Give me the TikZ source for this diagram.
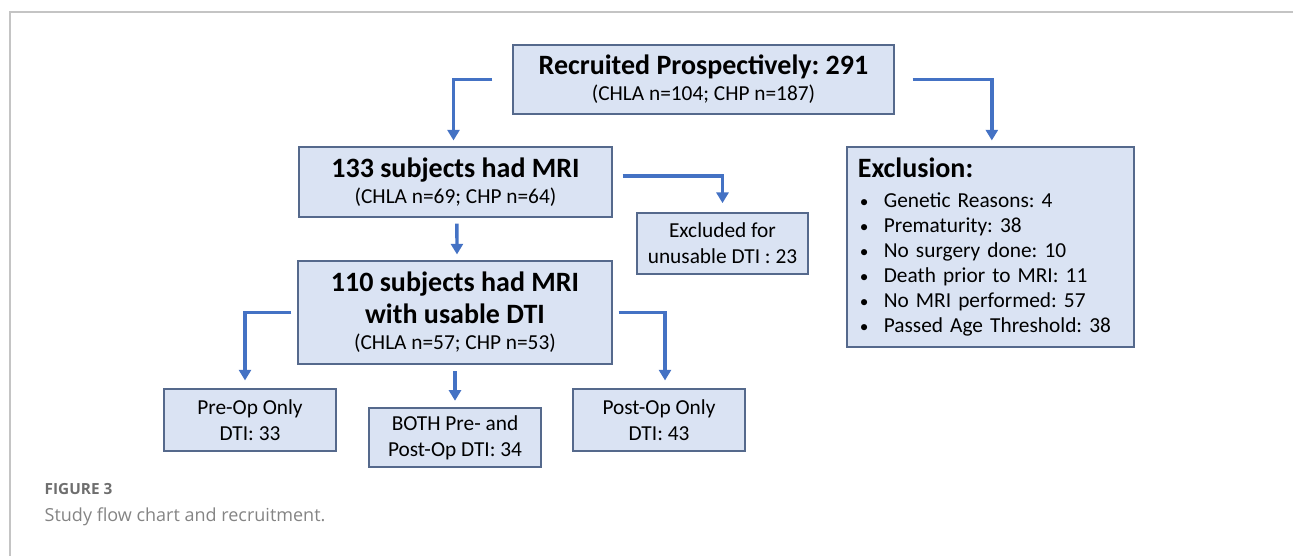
\documentclass[tikz,border=0pt]{standalone}
\usepackage{fontspec}
\setmainfont{Carlito}
\newfontfamily\capfont{Open Sans}
\usetikzlibrary{arrows.meta}
\frenchspacing

\definecolor{boxfill}{HTML}{DAE3F3}
\definecolor{boxline}{HTML}{55698C}
\definecolor{arrowblue}{HTML}{4472C4}
\definecolor{framegray}{HTML}{C4C4C4}
\definecolor{capgray}{HTML}{6E6E6E}

\tikzset{
  box/.style={draw=boxline, fill=boxfill, line width=0.8pt, inner sep=0pt,
    align=center, font=\fontsize{16}{19.5}\selectfont},
  flow/.style={draw=arrowblue, line width=2.5pt, -{Triangle[width=9pt,length=8pt]}},
}
\newcommand{\boxtitle}[1]{{\fontsize{21}{24}\selectfont\bfseries #1}}
\newcommand{\bulletitem}{\makebox[19.5pt][l]{\hspace{1.5pt}{\fontsize{13}{13}\selectfont\textbullet}}}

\begin{document}
\begin{tikzpicture}[x=0.75pt, y=-0.75pt]
    \useasboundingbox (0,0) rectangle (1293,556);

    % Draw the frame round the figure
    \draw[framegray, line width=1.1pt] (10,556) -- (10,12) -- (1293,12);

    % Draw nodes for the main flow
    \node[box, minimum width=285.75pt, minimum height=51.75pt] (recruit) at (703.5,79.5)
        {\boxtitle{Recruited Prospectively: 291}\\ (CHLA n=104; CHP n=187)};
    \node[box, minimum width=234.75pt, minimum height=52.5pt] (mri) at (455.5,182)
        {\boxtitle{133 subjects had MRI}\\ (CHLA n=69; CHP n=64)};
    \node[box, minimum width=235.5pt, minimum height=77.25pt] (usable) at (455,312.5)
        {\boxtitle{110 subjects had MRI}\\[4.5pt] \boxtitle{with usable DTI}\\ (CHLA n=57; CHP n=53)};

    % Draw nodes for the excluded subjects
    \node[box, minimum width=128.25pt, minimum height=45.75pt] (unusable) at (722.5,243.5)
        {Excluded for\\ unusable DTI : 23};
    \node[box, minimum width=215.25pt, minimum height=150pt, align=left, text width=199pt,
          font=\fontsize{16}{18.75}\selectfont] (exclusion) at (990.5,247)
        {\boxtitle{Exclusion:}\\[4pt]
         \bulletitem Genetic Reasons: 4\\
         \bulletitem Prematurity: 38\\
         \bulletitem No surgery done: 10\\
         \bulletitem Death prior to MRI: 11\\
         \bulletitem No MRI performed: 57\\
         \bulletitem Passed Age Threshold: 38};

    % Draw nodes for the DTI groups
    \node[box, minimum width=129pt, minimum height=46.5pt] (preop) at (250,420)
        {Pre-Op Only\\ DTI: 33};
    \node[box, minimum width=129pt, minimum height=44.25pt] (both) at (455,437.5)
        {BOTH Pre- and\\ Post-Op DTI: 34};
    \node[box, minimum width=129pt, minimum height=46.5pt] (postop) at (659,420)
        {Post-Op Only\\ DTI: 43};

    % Draw all arrows
    \draw[flow] ([xshift=-15pt]recruit.west) -| ([xshift=-1.5pt, yshift=4.5pt]mri.north); % Recruited to MRI
    \draw[flow] ([xshift=13.5pt]recruit.east) -| ([xshift=1pt, yshift=4.5pt]exclusion.north); % Recruited to exclusion
    \draw[flow] ([xshift=7.5pt, yshift=4.5pt]mri.east) -| ([yshift=7pt]unusable.north); % MRI to unusable DTI
    \draw[flow] ([xshift=1pt, yshift=-4.5pt]mri.south) -- ([xshift=1.5pt, yshift=4.5pt]usable.north); % MRI to usable DTI
    \draw[flow] ([xshift=-4.5pt]usable.west) -| ([xshift=-3.75pt, yshift=6pt]preop.north); % usable to pre-op
    \draw[flow] ([yshift=-5pt]usable.south) -- ([yshift=5pt]both.north); % usable to both
    \draw[flow] ([xshift=4.5pt]usable.east) -| ([xshift=4.5pt, yshift=6pt]postop.north); % usable to post-op

    % Caption
    \node[anchor=west, text=capgray, font=\capfont\fontsize{11.5}{13}\selectfont\bfseries] (figlabel) at (40,489) {FIGURE 3};
    \node[anchor=west, text=capgray!85, font=\capfont\fontsize{13.5}{16}\selectfont] (figtext) at (40,517) {Study flow chart and recruitment.};
\end{tikzpicture}
\end{document}
